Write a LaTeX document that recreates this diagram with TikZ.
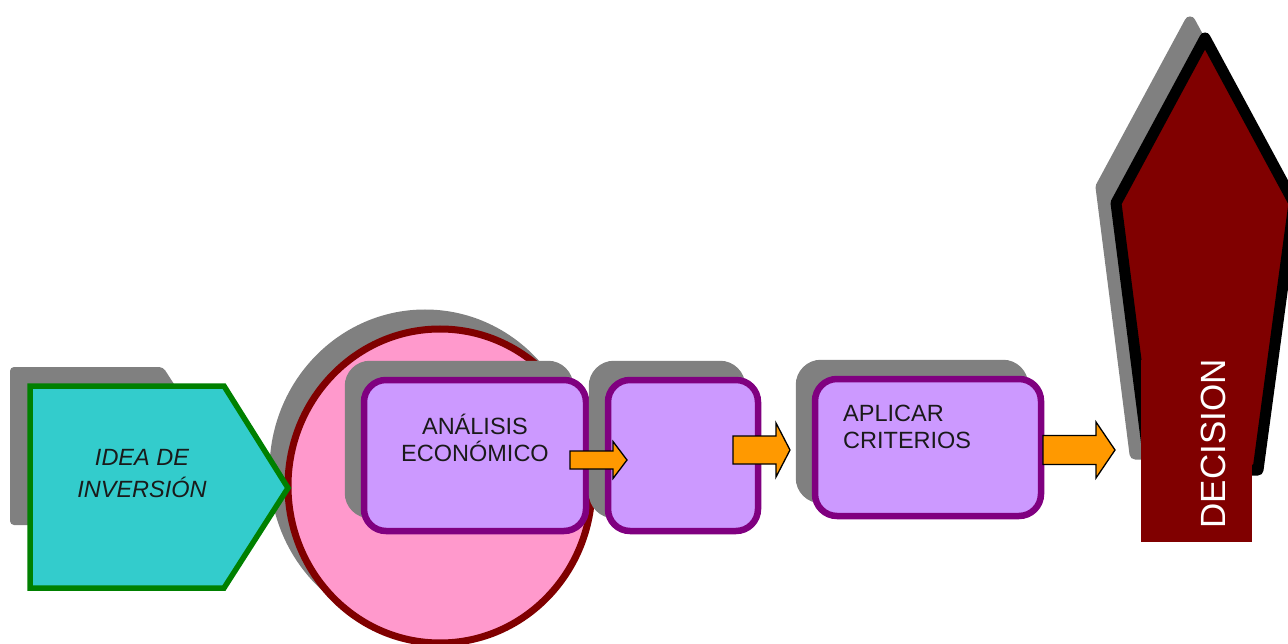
\documentclass[tikz,border=0pt]{standalone}
\usepackage{fontspec}
\setmainfont{Liberation Sans}
\usetikzlibrary{shapes.geometric}
\definecolor{shadowgray}{HTML}{808080}
\definecolor{boxline}{HTML}{800080}
\definecolor{boxfill}{HTML}{CC99FF}
\definecolor{ideafill}{HTML}{33CCCC}
\definecolor{idealine}{HTML}{008000}
\definecolor{circfill}{HTML}{FF99CC}
\definecolor{darkred}{HTML}{800000}
\definecolor{arroworange}{HTML}{FF9900}
\definecolor{textdark}{HTML}{1A1A1A}
\newcommand{\blkarrow}[7]{%
  \draw[blockarrow] (#2,{#5-#6}) -- (#3,{#5-#6}) -- (#3,{#5-#7}) -- (#4,#5)
    -- (#3,{#5+#7}) -- (#3,{#5+#6}) -- (#2,{#5+#6}) -- cycle;
  \coordinate (#1) at (#4,#5);}
\begin{document}
\begin{tikzpicture}[x=1pt,y=-1pt,
  procbox/.style={rectangle, rounded corners=22pt, draw=boxline, fill=boxfill,
    line width=6.5pt, inner sep=0pt},
  procshadow/.style={rectangle, rounded corners=22pt, draw=shadowgray, fill=shadowgray,
    line width=6.5pt, inner sep=0pt},
  blockarrow/.style={draw=black, fill=arroworange, line width=1.3pt, line join=miter},
  lbl/.style={font=\fontsize{23.5}{28}\selectfont, text=textdark, inner sep=0pt, anchor=base}]
\useasboundingbox (0,0) rectangle (1288,644);
\clip (0,0) rectangle (1288,644);

% circle
\node[ellipse, minimum width=304pt, minimum height=314pt, inner sep=0pt,
  draw=shadowgray, fill=shadowgray, line width=7pt] (circshadow) at (425,470) {};
\node[ellipse, minimum width=304pt, minimum height=314pt, inner sep=0pt,
  draw=darkred, fill=circfill, line width=7pt] (circ) at (440,486) {};

% idea de inversion
\fill[shadowgray, rounded corners=4pt] (10,367) -- (163,367) -- (214,446) -- (163,525) -- (10,525) -- cycle;
\draw[idealine, fill=ideafill, line width=5.5pt, line join=miter]
  (30,386) -- (224,386) -- (288,488) -- (224,588) -- (30,588) -- cycle;
\node[lbl, font=\fontsize{23.5}{28}\selectfont\itshape] (idea1) at (142,465) {IDEA DE};
\node[lbl, font=\fontsize{23.5}{28}\selectfont\itshape] (idea2) at (142,497) {INVERSIÓN};

% box 1
\node[procshadow, minimum width=222pt, minimum height=151pt] (b1s) at (459,439.5) {};
\node[procbox, minimum width=222pt, minimum height=151pt] (b1) at (475,455.5) {};
\node[lbl] (b1t1) at (475,434) {ANÁLISIS};
\node[lbl] (b1t2) at (475,461) {ECONÓMICO};

% box 2
\node[procshadow, minimum width=150pt, minimum height=151pt] (b2s) at (667,439.5) {};
\node[procbox, minimum width=150pt, minimum height=151pt] (b2) at (683,455.5) {};

% box 3
\node[procshadow, minimum width=226pt, minimum height=137pt] (b3s) at (912,431.5) {};
\node[procbox, minimum width=226pt, minimum height=137pt] (b3) at (928,447.5) {};
\node[lbl, anchor=base west] (b3t1) at (843,421) {APLICAR};
\node[lbl, anchor=base west] (b3t2) at (843,448) {CRITERIOS};

% decision
\draw[shadowgray, fill=shadowgray, line width=11pt, line join=round, shift={(-15,-16)}]
  (1205,38) -- (1116,203) -- (1150,470) -- (1258,470) -- (1294,203) -- cycle;
\draw[black, fill=darkred, line width=11pt, line join=round]
  (1205,38) -- (1116,203) -- (1150,470) -- (1258,470) -- (1294,203) -- cycle;
\node[rectangle, fill=darkred, minimum width=111pt, minimum height=182pt, inner sep=0pt]
  (dec) at (1196.5,451) {};
\node[rotate=90, text=white, font=\fontsize{35}{40}\selectfont, inner sep=0pt]
  (dect) at (1213,444) {DECISION};

% block arrows
\blkarrow{a1}{570}{613}{627}{460}{9}{18.5}
\blkarrow{a2}{733}{776}{790}{450}{14}{27}
\blkarrow{a3}{1043}{1096}{1115}{450}{14.5}{28}
\end{tikzpicture}
\end{document}
